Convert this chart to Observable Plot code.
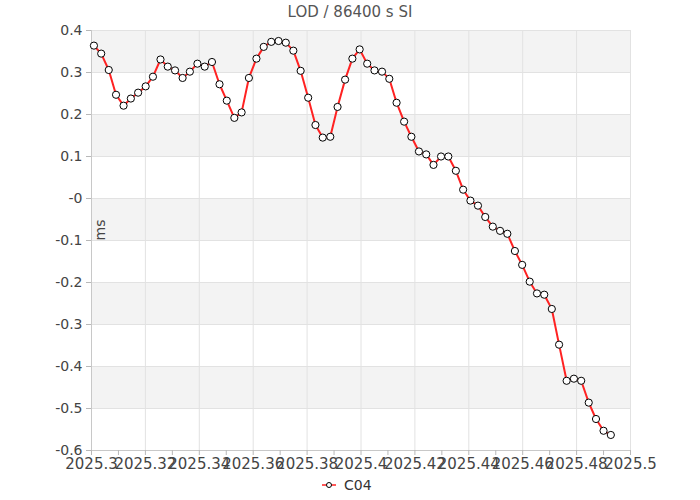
<!DOCTYPE html>
<html><head><meta charset="utf-8">
<script src="https://cdn.jsdelivr.net/npm/d3@7"></script>
<script src="https://cdn.jsdelivr.net/npm/@observablehq/plot@0.6"></script>
<style>
body{margin:0;background:#fff;font-family:"DejaVu Sans",Verdana,sans-serif;}
#wrap{width:700px;height:500px;position:relative;overflow:hidden;}
#title{height:24px;line-height:24px;text-align:center;font-size:15px;color:#555;}
#chart svg{display:block;}
#legend{position:absolute;top:476px;left:0;width:700px;height:20px;}
#legend svg{position:absolute;left:320px;top:3px;}
#legend span{position:absolute;left:344px;top:0px;font-size:14px;color:#333;line-height:18px;}
</style></head><body>
<div id="wrap">
<div id="title">LOD / 86400 s SI</div>
<div id="chart"></div>
<div id="legend"><svg width="18" height="12"><line x1="2" y1="6" x2="16" y2="6" stroke="#f22" stroke-width="1.5"/><circle cx="9" cy="6" r="2.5" fill="#fff" stroke="#000" stroke-width="1"/></svg><span>C04</span></div>
</div>
<script>
const epochs = [2025.3009,2025.3036,2025.3064,2025.3091,2025.3119,2025.3146,2025.3173,2025.3201,2025.3228,2025.3256,
2025.3283,2025.3310,2025.3338,2025.3365,2025.3393,2025.3420,2025.3447,2025.3475,2025.3502,2025.3530,
2025.3557,2025.3584,2025.3612,2025.3639,2025.3667,2025.3694,2025.3721,2025.3749,2025.3776,2025.3804,
2025.3831,2025.3858,2025.3886,2025.3913,2025.3941,2025.3968,2025.3995,2025.4023,2025.4050,2025.4078,
2025.4105,2025.4132,2025.4160,2025.4187,2025.4215,2025.4242,2025.4269,2025.4297,2025.4324,2025.4352,
2025.4379,2025.4406,2025.4434,2025.4461,2025.4489,2025.4516,2025.4543,2025.4571,2025.4598,2025.4626,
2025.4653,2025.4680,2025.4708,2025.4735,2025.4763,2025.4790,2025.4817,2025.4845,2025.4872,2025.4900,
2025.4927];
const lod = [0.364,0.345,0.306,0.247,0.221,0.238,0.252,0.267,0.290,0.331,
0.314,0.305,0.287,0.302,0.321,0.314,0.325,0.272,0.233,0.192,
0.205,0.287,0.333,0.361,0.373,0.375,0.371,0.352,0.304,0.240,
0.175,0.145,0.147,0.218,0.283,0.333,0.355,0.321,0.305,0.302,
0.285,0.228,0.183,0.147,0.112,0.105,0.080,0.100,0.100,0.066,
0.021,-0.005,-0.017,-0.044,-0.067,-0.077,-0.084,-0.125,-0.158,-0.198,
-0.226,-0.229,-0.263,-0.348,-0.434,-0.429,-0.434,-0.486,-0.525,-0.553,
-0.563];
const xTicks = [2025.3,2025.32,2025.34,2025.36,2025.38,2025.4,2025.42,2025.44,2025.46,2025.48,2025.5];
const xTickLabels = ["2025.3","2025.32","2025.34","2025.36","2025.38","2025.4","2025.42","2025.44","2025.46","2025.48","2025.5"];
const xMinorTicks = [2025.31,2025.33,2025.35,2025.37,2025.39,2025.41,2025.43,2025.45,2025.47,2025.49];
const yTicks = [-0.6,-0.5,-0.4,-0.3,-0.2,-0.1,0,0.1,0.2,0.3,0.4];
const yTickLabels = ["-0.6","-0.5","-0.4","-0.3","-0.2","-0.1","-0","0.1","0.2","0.3","0.4"];
const seriesName = "C04";
const yLabel = "ms";

const data = epochs.map((x, i) => ({x, y: lod[i]}));
// alternating bands between y ticks (gray where upper tick index is even from top)
const bands = [];
for (let i = 0; i < yTicks.length - 1; i++) {
  if ((yTicks.length - 2 - i) % 2 === 0) bands.push({y1: yTicks[i], y2: yTicks[i + 1]});
}

const textColor = "#444";
const chart = Plot.plot({
  width: 700,
  height: 452,
  marginTop: 6,
  marginBottom: 26,
  marginLeft: 91,
  marginRight: 70,
  style: {fontFamily: '"DejaVu Sans", Verdana, sans-serif', background: "#fff", overflow: "visible"},
  x: {domain: [2025.3, 2025.5]},
  y: {domain: [-0.6, 0.4]},
  marks: [
    Plot.rect(bands, {y1: "y1", y2: "y2", fill: "#f3f3f3"}),
    Plot.gridX(xTicks, {stroke: "#e2e2e2", strokeOpacity: 1}),
    Plot.gridY(yTicks, {stroke: "#e2e2e2", strokeOpacity: 1}),
    Plot.ruleX([2025.3], {stroke: "#c8c8c8"}),
    Plot.ruleY([-0.6], {stroke: "#c8c8c8"}),
    Plot.axisX(xMinorTicks, {tickSize: 5, tickFormat: () => "", stroke: "#b8b8b8", label: null}),
    Plot.axisX(xTicks, {tickSize: 5, tickPadding: 3, tickFormat: (d, i) => xTickLabels[xTicks.indexOf(d)], fontSize: 15, fill: textColor, stroke: "#b8b8b8", label: null}),
    Plot.axisY(yTicks, {tickSize: 5, tickPadding: 4, tickFormat: (d) => yTickLabels[yTicks.indexOf(d)], fontSize: 14, fill: textColor, stroke: "#b8b8b8", label: null}),
    Plot.text([yLabel], {frameAnchor: "left", rotate: -90, dx: 9, fontSize: 14, fill: textColor}),
    Plot.line(data, {x: "x", y: "y", stroke: "#f22", strokeWidth: 2}),
    Plot.dot(data, {x: "x", y: "y", r: 3.6, fill: "#fff", stroke: "#000", strokeWidth: 1})
  ]
});
document.getElementById("chart").appendChild(chart);
</script>
</body></html>
